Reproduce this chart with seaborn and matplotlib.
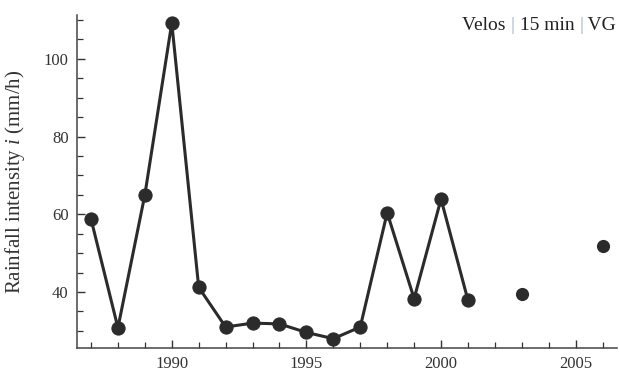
import matplotlib
matplotlib.use("Agg")
import matplotlib.pyplot as plt
import seaborn as sns
import pandas as pd
from matplotlib.ticker import MultipleLocator

# Annual maximum rainfall intensity (Velos, 15 min)
years_line = [1987, 1988, 1989, 1990, 1991, 1992, 1993, 1994, 1995, 1996,
              1997, 1998, 1999, 2000, 2001]
values_line = [58.8, 30.8, 65.0, 109.2, 41.2, 31.0, 32.0, 31.8, 29.6, 28.0,
               31.0, 60.4, 38.3, 63.9, 37.9]
years_isolated = [2003, 2006]
values_isolated = [39.5, 51.8]

sns.set_style("ticks")
plt.rcParams['font.family'] = ['Liberation Serif', 'DejaVu Serif']
plt.rcParams['mathtext.fontset'] = 'custom'
plt.rcParams['mathtext.it'] = 'Liberation Serif:italic'
plt.rcParams['mathtext.rm'] = 'Liberation Serif'

df_line = pd.DataFrame({"year": years_line, "value": values_line})
df_iso = pd.DataFrame({"year": years_isolated, "value": values_isolated})

fig = plt.figure(figsize=(6.19, 3.71), dpi=100)
ax = fig.add_axes([0.1244, 0.062, 0.873, 0.898])

dark = "#2b2b2b"
sns.lineplot(data=df_line, x="year", y="value", ax=ax, color=dark,
             linewidth=2.2, marker="o", markersize=9.5,
             markeredgecolor=dark, markerfacecolor=dark)
sns.scatterplot(data=df_iso, x="year", y="value", ax=ax, color=dark,
                s=90, edgecolor=dark, linewidth=0)

ax.set_xlim(1986.48, 2006.55)
ax.set_ylim(25.6, 111.3)
ax.xaxis.set_major_locator(MultipleLocator(5))
ax.xaxis.set_minor_locator(MultipleLocator(1))
ax.yaxis.set_major_locator(MultipleLocator(20))
ax.yaxis.set_minor_locator(MultipleLocator(5))
ax.tick_params(which="both", direction="in", color="#333333", labelcolor="#333333",
               labelsize=12)
ax.tick_params(which="major", length=6, width=1)
ax.tick_params(which="minor", length=4, width=0.9)
ax.tick_params(axis="x", pad=6)
ax.tick_params(axis="y", pad=6)

sns.despine(ax=ax)
for s in ["left", "bottom"]:
    ax.spines[s].set_color("#444444")
    ax.spines[s].set_linewidth(1.1)

ax.set_xlabel("")
ax.set_ylabel(r"Rainfall intensity $i$ (mm/h)", fontsize=15, color="#333333")
ax.yaxis.set_label_coords(-0.092, 0.5)

# top-right annotation with lighter separators
parts = [("Velos ", "#222222"), ("|", "#9ab3cc"), (" 15 min ", "#222222"),
         ("|", "#9ab3cc"), (" VG", "#222222")]
fig.canvas.draw()
renderer = fig.canvas.get_renderer()
x = 616 / 619
for txt, col in reversed(parts):
    t = fig.text(x, 1 - 26 / 371, txt, ha="right", va="center", fontsize=14,
                 color=col)
    bb = t.get_window_extent(renderer=renderer)
    x -= bb.width / fig.bbox.width

fig.savefig("out.png", dpi=100)
